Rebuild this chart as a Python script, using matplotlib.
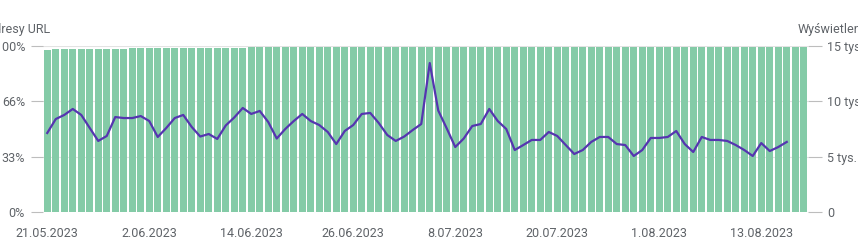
import datetime as dt
import matplotlib.pyplot as plt

# dane
start = dt.date(2023, 5, 21)
n_days = 90
dates = [start + dt.timedelta(days=i) for i in range(n_days)]

# odsetek zindeksowanych adresów URL (%)
url_pct = [97.6] + [98.2] * 9 + [98.8] * 14 + [99.4] * 66

# wyświetlenia (do 16.08.2023)
impressions = [
    7140, 8400, 8770, 9310, 8770, 7590, 6420, 6870, 8580, 8490,
    8490, 8670, 8220, 6780, 7590, 8490, 8770, 7680, 6820, 7050,
    6600, 7820, 8540, 9400, 8860, 9130, 8130, 6640, 7500, 8220,
    8860, 8220, 7860, 7230, 6140, 7320, 7860, 8860, 8950, 8040,
    6960, 6420, 6820, 7410, 7950, 13460, 9170, 7550, 5870, 6640,
    7770, 7950, 9310, 8220, 7500, 5600, 6050, 6510, 6510, 7230,
    6870, 6050, 5240, 5600, 6330, 6780, 6780, 6140, 6050, 5060,
    5600, 6690, 6690, 6780, 7320, 6140, 5420, 6780, 6510, 6510,
    6420, 6050, 5600, 5060, 6230, 5510, 5870, 6330,
]

left_ticks = [0, 100 / 3, 200 / 3, 100]
left_labels = ['0%', '33%', '66%', '100%']
right_ticks = [0, 5000, 10000, 15000]
right_labels = ['0', '5 tys.', '10 tys.', '15 tys.']

plt.rcParams['font.family'] = ['Roboto', 'DejaVu Sans']
grey = '#5f6368'

fig = plt.figure(figsize=(8.58, 2.49), dpi=100)
ax = fig.add_axes([43 / 858, 37 / 249, 765 / 858, 175 / 249 * 166 / 175])

x = list(range(n_days))
ax.bar(x, url_pct, width=0.88, color='#84cba7', zorder=2)
ax.set_xlim(-0.5, n_days - 0.5)
ax.set_ylim(0, 100)
ax.set_yticks(left_ticks)
ax.set_yticklabels(left_labels)
ax.grid(axis='y', color='#e3e3e3', linewidth=0.8, zorder=0)
ax.set_axisbelow(True)

tick_idx = list(range(0, n_days, 12))
ax.set_xticks(tick_idx)
ax.set_xticklabels([f'{dates[i].day}.{dates[i].month:02d}.{dates[i].year}' for i in tick_idx])
ax.tick_params(axis='x', length=0, pad=11, labelsize=9, labelcolor=grey)
ax.tick_params(axis='y', length=9, width=0.8, color='#bdbdbd', pad=4, labelsize=9, labelcolor=grey)

ax2 = ax.twinx()
ax2.plot(x[:len(impressions)], impressions, color='#5535b0', linewidth=1.6, zorder=3)
ax2.set_ylim(0, 15000)
ax2.set_yticks(right_ticks)
ax2.set_yticklabels(right_labels)
ax2.tick_params(axis='y', length=10, width=0.8, color='#bdbdbd', pad=4, labelsize=9, labelcolor=grey)

for a in (ax, ax2):
    for s in a.spines.values():
        s.set_visible(False)

fig.text(50 / 858, 1 - 30 / 249, 'Adresy URL', ha='right', va='center', fontsize=9, color=grey)
fig.text(798 / 858, 1 - 30 / 249, 'Wyświetlenia', ha='left', va='center', fontsize=9, color=grey)

fig.savefig('out.png', dpi=100)
